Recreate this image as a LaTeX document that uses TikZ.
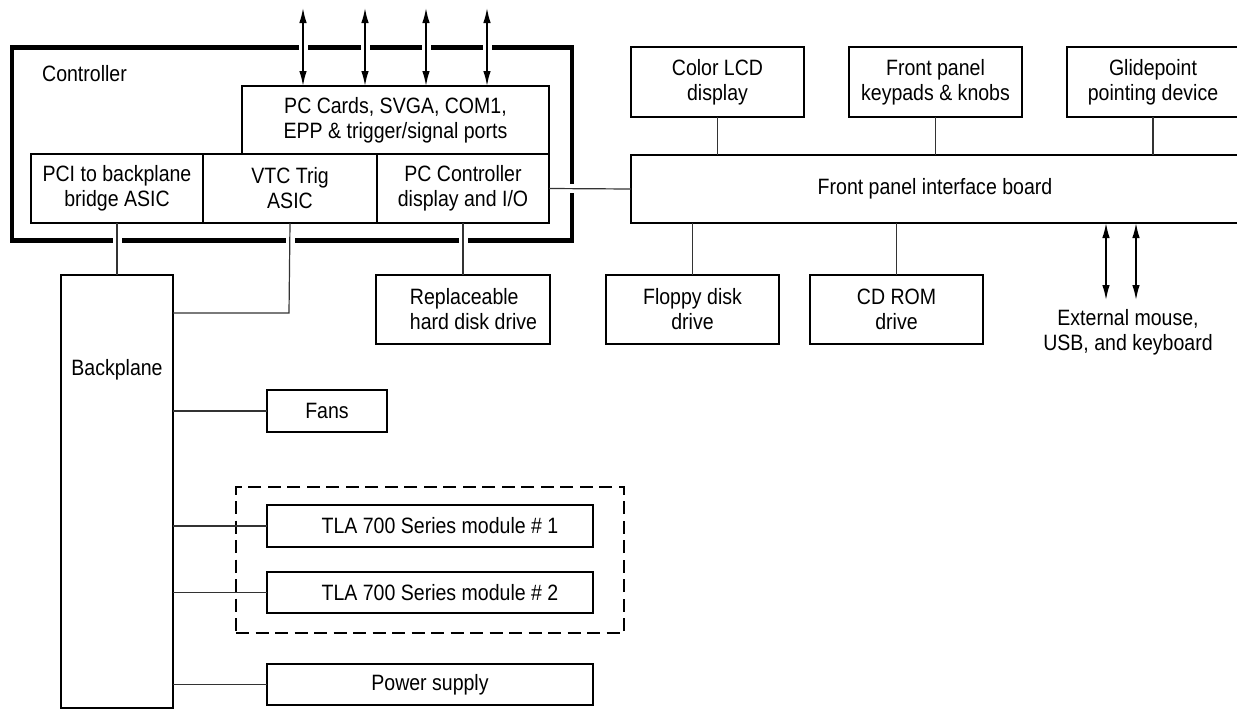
\documentclass[tikz,border=0pt]{standalone}
\usepackage{fontspec}
\setmainfont{Liberation Sans}[FakeStretch=0.88]
\usetikzlibrary{arrows.meta,calc}
\begin{document}
\begin{tikzpicture}[x=1pt,y=-1pt,
  every node/.style={font=\fontsize{22.2pt}{25pt}\selectfont, inner sep=0pt, outer sep=0pt},
  box/.style={draw, line width=2pt, align=center},
  conn/.style={draw, black!80, line width=1.2pt},
  biarrow/.style={line width=1.5pt, {Latex[length=15pt,width=7.5pt]}-{Latex[length=15pt,width=7.5pt]}},
  gap/.style={draw, white, line width=9pt}]
\useasboundingbox (0,0) rectangle (1237,710);

% Controller enclosure
\node[draw, line width=4.5pt, minimum width=560pt, minimum height=193pt] (ctrl) at (291.9,144) {};
\node (ctrltxt) at (84.5,74) {Controller};

% inner boxes
\node[box, minimum width=307pt, minimum height=68pt] (pc) at (395.5,120) {PC Cards, SVGA, COM1,\\EPP \& trigger/signal ports};
\node[box, minimum width=172pt, minimum height=69pt] (pci) at (117,188.5) {PCI to backplane\\bridge ASIC};
\node[box, minimum width=174pt, minimum height=69pt] (vtc) at (290,188.5) {VTC Trig\\ASIC};
\node[box, minimum width=172pt, minimum height=69pt] (pcc) at (463,188.5) {PC Controller\\display and I/O};

% top row
\node[box, minimum width=173pt, minimum height=70pt] (lcd) at (717.5,82) {Color LCD\\display};
\node[box, minimum width=173pt, minimum height=70pt] (keys) at (935.5,82) {Front panel\\keypads \& knobs};
\node[box, minimum width=172pt, minimum height=70pt] (glide) at (1153,82) {Glidepoint\\pointing device};

% front panel board
\node[box, minimum width=608pt, minimum height=68pt] (board) at (935,189) {Front panel interface board};

% drives
\node[box, align=left, minimum width=174pt, minimum height=69pt] (hdd) at (463,309.5) {\hspace*{21pt}Replaceable\\\hspace*{21pt}hard disk drive};
\node[box, minimum width=173pt, minimum height=69pt] (floppy) at (692.5,309.5) {Floppy disk\\drive};
\node[box, minimum width=173pt, minimum height=69pt] (cdrom) at (896.5,309.5) {CD ROM\\drive};

% external
\node[align=center] (ext) at (1128,332.5) {External mouse,\\USB, and keyboard};

% backplane and its boxes
\node[box, minimum width=112pt, minimum height=433pt] (bp) at (117,491.5) {};
\node (bptxt) at (117,370) {Backplane};
\node[box, minimum width=120pt, minimum height=42pt] (fans) at (327,411) {Fans};
\node[draw, line width=2pt, dash pattern=on 13pt off 6.5pt, minimum width=388pt, minimum height=146pt] (grp) at (430,560) {};
\node[box, minimum width=326pt, minimum height=42pt] (tla1) at (430,526) {\hspace*{20pt}TLA 700 Series module \# 1};
\node[box, minimum width=326pt, minimum height=41pt] (tla2) at (430,592.5) {\hspace*{20pt}TLA 700 Series module \# 2};
\node[box, minimum width=326pt, minimum height=41pt] (psu) at (430,684.5) {Power supply};

% coordinates
\coordinate (a1) at (303,8);
\coordinate (a2) at (365,8);
\coordinate (a3) at (426,8);
\coordinate (a4) at (487,8);
\coordinate (e1) at (1106,300);
\coordinate (e2) at (1136,300);
\coordinate (vtcj) at (289,313);

% gaps in the thick enclosure where lines cross it
\foreach \c in {a1,a2,a3,a4} {
  \path[gap] ($(\c |- ctrl.north)+(0,-5)$) -- ($(\c |- ctrl.north)+(0,5)$);
}
\path[gap] ($(pci.south |- ctrl.south)+(0,-5)$) -- ($(pci.south |- ctrl.south)+(0,5)$);
\path[gap] ($(vtc.south |- ctrl.south)+(0,-5)$) -- ($(vtc.south |- ctrl.south)+(0,5)$);
\path[gap] ($(pcc.south |- ctrl.south)+(0,-5)$) -- ($(pcc.south |- ctrl.south)+(0,5)$);
\path[gap] ($(ctrl.east |- pcc.east)+(-5,0)$) -- ($(ctrl.east |- pcc.east)+(5,0)$);

% arrows
\foreach \c in {a1,a2,a3,a4} {
  \draw[biarrow] (\c) -- (\c |- pc.north);
}
\draw[biarrow] (e1 |- board.south) -- (e1);
\draw[biarrow] (e2 |- board.south) -- (e2);

% connectors
\draw[conn] (pci.south) -- (bp.north);
\draw[conn] (vtc.south) -- (vtcj) -- (vtcj -| bp.east);
\draw[conn] (pcc.south) -- (hdd.north);
\draw[conn] (pcc.east) -- (board.west);
\draw[conn] (lcd.south) -- (lcd.south |- board.north);
\draw[conn] (keys.south) -- (keys.south |- board.north);
\draw[conn] (glide.south) -- (glide.south |- board.north);
\draw[conn] (floppy.north |- board.south) -- (floppy.north);
\draw[conn] (cdrom.north |- board.south) -- (cdrom.north);
\draw[conn] (fans.west -| bp.east) -- (fans.west);
\draw[conn] (tla1.west -| bp.east) -- (tla1.west);
\draw[conn] (tla2.west -| bp.east) -- (tla2.west);
\draw[conn] (psu.west -| bp.east) -- (psu.west);
\end{tikzpicture}
\end{document}
